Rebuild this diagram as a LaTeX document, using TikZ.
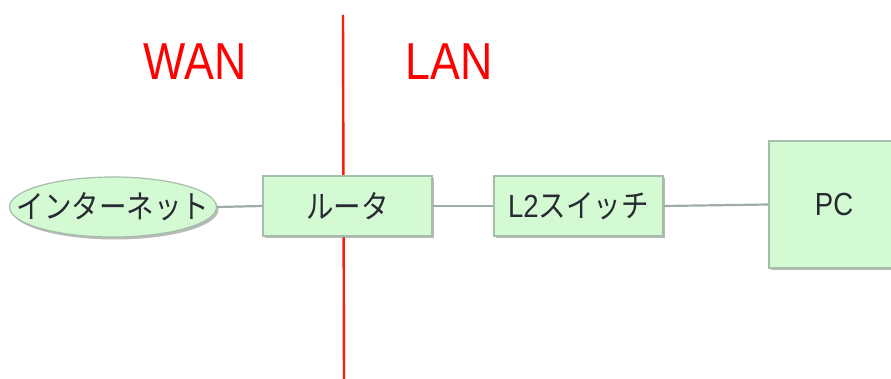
\documentclass[tikz,border=0pt]{standalone}
\usepackage{fontspec}
\setmainfont{Liberation Sans}
\newfontfamily\cjkfont{Noto Sans CJK JP}
\usetikzlibrary{shapes.geometric,shadows}
\definecolor{boxfill}{RGB}{212,250,212}
\definecolor{boxline}{RGB}{165,190,170}
\definecolor{linkgray}{RGB}{160,172,168}
\definecolor{txt}{RGB}{40,42,50}
\definecolor{divred}{RGB}{250,30,10}
\newcommand{\sq}[1]{\scalebox{0.86}[1]{#1}}
\tikzset{
  devbox/.style={draw=boxline, line width=1.2pt, fill=boxfill, rectangle,
    inner sep=0pt, text=txt, font=\fontsize{32}{32}\selectfont,
    drop shadow={shadow xshift=2pt, shadow yshift=-2.5pt, fill=black!45, opacity=0.6}},
  cloud/.style={devbox, ellipse},
  labeltext/.style={inner sep=0pt, text=txt, font=\fontsize{32}{32}\selectfont},
  link/.style={draw=linkgray, line width=2.2pt},
  zone/.style={text=red, font=\fontsize{52}{52}\selectfont, inner sep=0pt}
}
\begin{document}
\begin{tikzpicture}[x=1pt, y=-1pt]
\useasboundingbox[fill=white] (0,0) rectangle (891,379);
\coordinate (dtop) at (343,15);
\coordinate (dbot) at (344,379);
\draw[divred, line width=2.4pt] (dtop) -- (dbot);
\node[zone] (wan) at (195,62) {\sq{WAN}};
\node[zone] (lan) at (449,62) {\sq{LAN}};
\node[cloud, minimum width=207pt, minimum height=60pt] (inet) at (113,207) {};
\node[labeltext] (inettext) at (inet.center) {\sq{\cjkfont インターネット}};
\node[devbox, minimum width=169pt, minimum height=60pt] (router) at (347.5,206) {\sq{\cjkfont ルータ}};
\node[devbox, minimum width=169pt, minimum height=60pt] (sw) at (578.5,206) {\sq{L2\cjkfont スイッチ}};
\node[devbox, minimum width=130pt, minimum height=127pt] (pc) at (834,204.5) {\sq{PC}};
\draw[link] (inet.east) -- (router.west);
\draw[link] (router.east) -- (sw.west);
\draw[link] (sw.east) -- (pc.west);
\end{tikzpicture}
\end{document}
